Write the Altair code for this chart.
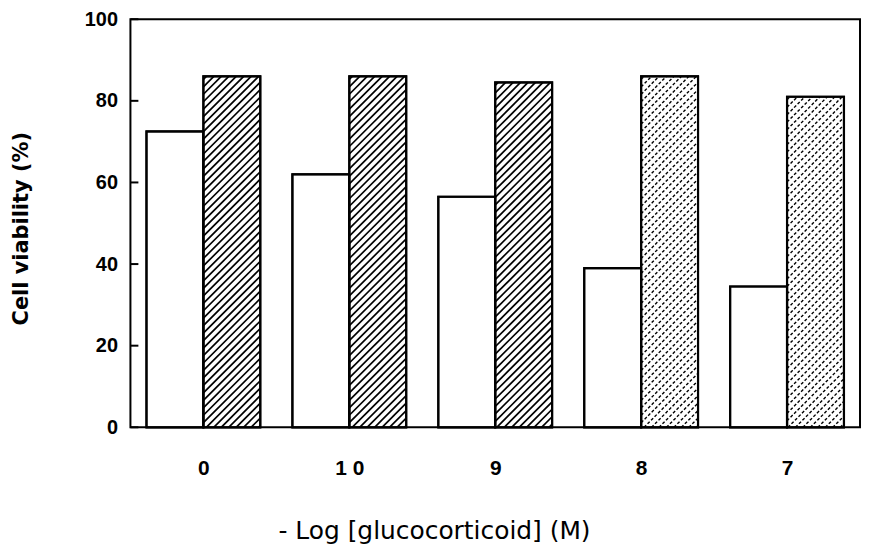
import altair as alt
import pandas as pd

# ---- data ----
categories = ["0", "1 0", "9", "8", "7"]
control_values = [72.5, 62.0, 56.5, 39.0, 34.5]      # open bars
treated_values = [86.0, 86.0, 84.5, 86.0, 81.0]      # hatched bars
y_tick_values = [0, 20, 40, 60, 80, 100]

# ---- layout ----
PW, PH = 733, 410
BAR = 0.39                      # bar width in group units
XDOM = [-0.5, len(categories) - 0.5]
PX_X = PW / (XDOM[1] - XDOM[0])  # px per group unit
PX_Y = PH / 100.0                # px per percent
HATCH_STEP = 7.5                 # px between hatch lines (horizontal)

rows = []
for i, (c, a, b) in enumerate(zip(categories, control_values, treated_values)):
    rows.append({"idx": i, "cat": c, "series": "control", "v": a, "x0": i - BAR, "x1": i})
    rows.append({"idx": i, "cat": c, "series": "treated", "v": b, "x0": i, "x1": i + BAR})
bars = pd.DataFrame(rows)

# hatch segments (45 deg, "/" direction) clipped to each hatched bar
hrows = []
for i, v in enumerate(treated_values):
    wb = BAR * PX_X
    hb = v * PX_Y
    c = -hb + 3.0
    while c < wb:
        xs = max(0.0, c)
        xe = min(wb, hb + c)
        if xe > xs + 0.5:
            hrows.append({
                "idx": i,
                "style": "solid" if i < 3 else "dotted",
                "hx": i + xs / PX_X, "hx2": i + xe / PX_X,
                "hy": (xs - c) / PX_Y, "hy2": (xe - c) / PX_Y,
            })
        c += HATCH_STEP
hatch = pd.DataFrame(hrows)

label_expr = "[" + ",".join("'%s'" % c for c in categories) + "][datum.value]"

xscale = alt.Scale(domain=XDOM, nice=False, zero=False)
yscale = alt.Scale(domain=[0, 100], nice=False)

x_axis = alt.Axis(
    values=list(range(len(categories))), labelExpr=label_expr,
    ticks=False, tickSize=0, domain=False, grid=False,
    labelFont="Liberation Sans", labelFontWeight="bold", labelFontSize=21,
    labelColor="black", labelPadding=30,
    title="- Log [glucocorticoid] (M)", titleFont="DejaVu Sans",
    titleFontWeight="normal", titleFontSize=25, titleColor="black",
    titleX=305, titleY=112, titleAnchor="start", titleAlign="center",
    titleBaseline="alphabetic",
)
y_axis = alt.Axis(
    values=y_tick_values, ticks=False, tickSize=0, domain=False, grid=False,
    labelFont="Liberation Sans", labelFontWeight="bold", labelFontSize=20,
    labelColor="black", labelPadding=13,
    title="Cell viability (%)", titleFont="DejaVu Sans",
    titleFontWeight="bold", titleFontSize=21, titleColor="black",
    titleX=-109, titleY=210, titleAngle=270, titleAlign="center",
    titleBaseline="middle",
)

base_bars = alt.Chart(bars).mark_rect(fill="white", stroke="black", strokeWidth=2).encode(
    x=alt.X("x0:Q", scale=xscale, axis=x_axis),
    x2="x1:Q",
    y=alt.Y("v:Q", scale=yscale, axis=y_axis),
    y2=alt.datum(0),
)

hatch_solid = alt.Chart(hatch).transform_filter("datum.style == 'solid'").mark_rule(
    color="black", strokeWidth=1.7
).encode(x=alt.X("hx:Q", scale=xscale), x2="hx2:Q",
         y=alt.Y("hy:Q", scale=yscale), y2="hy2:Q")

hatch_dot = alt.Chart(hatch).transform_filter("datum.style == 'dotted'").mark_rule(
    color="black", strokeWidth=1.4, strokeDash=[3, 2]
).encode(x=alt.X("hx:Q", scale=xscale), x2="hx2:Q",
         y=alt.Y("hy:Q", scale=yscale), y2="hy2:Q")

outline = alt.Chart(bars).mark_rect(fill=None, stroke="black", strokeWidth=2.2).encode(
    x=alt.X("x0:Q", scale=xscale), x2="x1:Q",
    y=alt.Y("v:Q", scale=yscale), y2=alt.datum(0),
)

ticks = alt.Chart(pd.DataFrame({"t": y_tick_values})).mark_rule(
    color="black", strokeWidth=2
).encode(x=alt.value(0), x2=alt.value(8), y=alt.Y("t:Q", scale=yscale))

chart = alt.layer(base_bars, hatch_solid, hatch_dot, outline, ticks).properties(
    width=PW, height=PH,
    background="white",
    autosize=alt.AutoSizeParams(type="none"),
    padding={"left": 123, "top": 10, "right": 2, "bottom": 120},
).configure_view(stroke="black", strokeWidth=2)

chart.save("out.html", embed_options={"renderer": "svg", "actions": False})
